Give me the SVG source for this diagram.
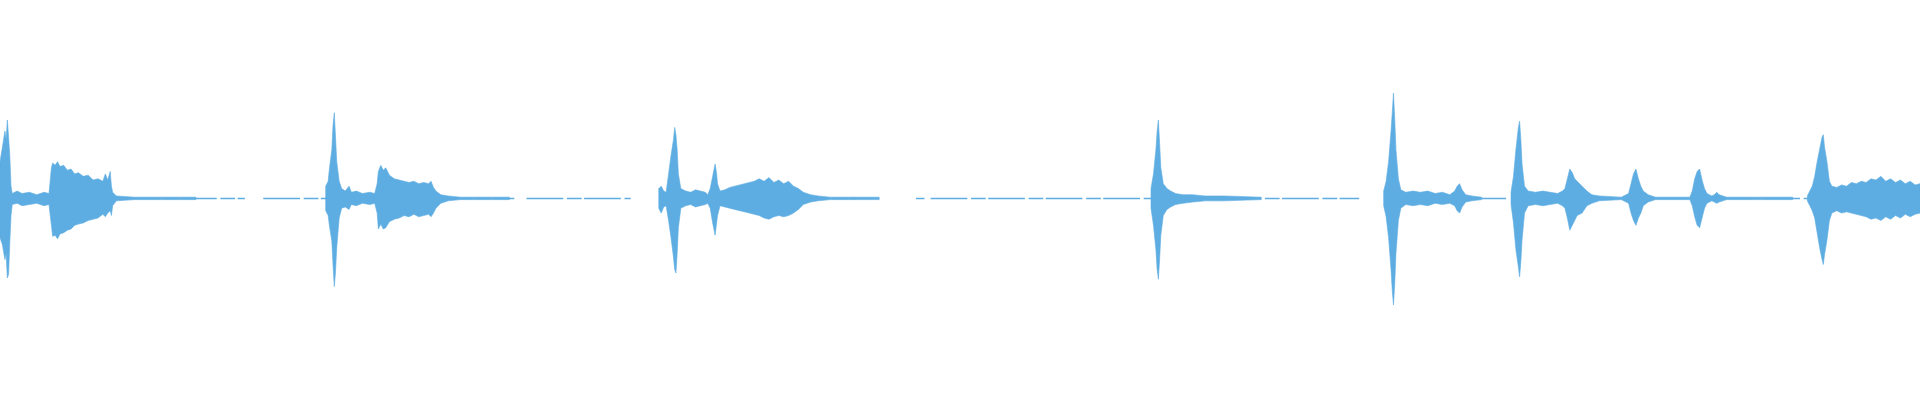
<svg xmlns="http://www.w3.org/2000/svg" width="1920" height="400" viewBox="0 0 1920 400">
<style>.w{fill:#5dade2;stroke:#5dade2;stroke-width:0.5;stroke-linejoin:miter}.b{stroke:#5dade2;stroke-width:1.2;fill:none}</style>
<rect width="1920" height="400" fill="#fff"/>
<g transform="translate(0,198.4) scale(1.2245)">
<g id="baseline"><path class="b" d="M100,0H200M215,0H420M430,0H515M600,0H700M748,0H755M760,0H940M1000,0H1110M1160,0H1230M1300,0H1330M1350,0H1380M1400,0H1430M1440,0H1478" stroke-dasharray="30 3 12 2"/></g>
<g id="e1"><path class="w" d="M0,-30L2,-42L4,-55L5,-48L6,-64L7,-50L8,-35L9,-10L10,-4L14,-6L18,-4L24,-5L30,-3L36,-5L40,-4L42,-25L43,-29L45,-27L47,-30L49,-26L52,-27L55,-23L58,-24L61,-20L64,-21L68,-18L72,-19L76,-15L80,-16L84,-14L86,-20L88,-15L90,-22L91,-10L92,-5L95,-2L110,-1L160,-1L160,1L110,1L95,2L92,6L91,14L90,10L88,12L86,15L84,13L80,16L76,17L72,18L68,20L64,21L61,22L58,25L55,26L52,28L49,29L47,33L45,30L43,31L42,22L40,5L36,6L30,4L24,5L18,6L14,4L10,5L9,14L8,36L7,62L6,65L5,45L4,50L2,38L0,32Z"/></g>
<g id="e2" transform="translate(266,0)"><path class="w" d="M0,-10L2,-14L3,-24L5,-40L6,-60L7,-70L8,-50L9,-30L11,-14L13,-8L16,-6L19,-10L21,-5L25,-6L30,-4L36,-5L40,-4L42,-12L43,-22L45,-27L47,-23L49,-25L52,-19L56,-16L60,-15L64,-14L68,-13L72,-14L76,-12L80,-13L84,-12L86,-14L88,-9L90,-6L94,-3L100,-2L110,-1L150,-1L150,1L110,1L100,2L94,4L90,8L88,12L86,15L84,13L80,14L76,15L72,13L68,15L64,14L60,16L56,17L52,19L49,24L47,25L45,21L43,25L42,12L40,4L36,5L30,4L25,6L21,5L19,9L16,7L13,8L11,16L9,40L8,60L7,72L6,55L5,35L3,22L2,14L0,10Z"/></g>
<g id="e3" transform="translate(538,0)"><path class="w" d="M0,-8L2,-10L4,-6L6,-5L8,-20L10,-35L12,-48L13,-58L14,-52L15,-40L16,-20L18,-8L22,-6L26,-5L30,-7L34,-6L38,-5L40,-3L42,-8L44,-18L46,-28L47,-22L48,-12L50,-6L54,-7L58,-9L62,-10L66,-11L70,-12L74,-13L78,-14L82,-16L86,-14L90,-17L94,-13L98,-15L102,-12L106,-14L110,-10L114,-8L118,-5L124,-3L130,-2L140,-1L180,-1L180,1L140,1L130,2L124,3L118,5L114,9L110,12L106,14L102,15L98,14L94,15L90,17L86,16L82,14L78,13L74,12L70,11L66,10L62,9L58,8L54,7L50,6L48,14L47,22L46,30L44,20L42,8L40,4L38,5L34,6L30,7L26,5L22,6L18,8L16,24L15,45L14,61L13,58L12,48L10,32L8,18L6,6L4,7L2,12L0,8Z"/></g>
<g id="e4" transform="translate(940,0)"><path class="w" d="M0,-8L2,-20L4,-40L5,-55L6,-64L7,-45L8,-25L10,-12L13,-8L16,-6L20,-4L26,-3L34,-3L44,-2L60,-2L90,-1L90,1L60,2L44,2L34,3L26,4L20,5L16,7L13,9L10,14L8,30L7,50L6,66L5,58L4,42L2,22L0,8Z"/></g>
<g id="e5" transform="translate(1130,0)"><path class="w" d="M0,-6L2,-14L4,-30L6,-55L7,-70L8,-86L9,-65L10,-40L12,-16L14,-7L18,-5L24,-6L30,-5L36,-6L42,-4L48,-5L54,-3L58,-6L60,-10L62,-12L64,-7L67,-3L72,-2L80,-1L80,1L72,2L67,3L64,7L62,12L60,10L58,6L54,4L48,5L42,4L36,6L30,5L24,6L18,5L14,8L12,18L10,45L9,70L8,87L7,75L6,58L4,32L2,15L0,6Z"/></g>
<g id="e6" transform="translate(1234,0)"><path class="w" d="M0,-5L2,-18L4,-40L6,-58L7,-63L8,-48L9,-28L11,-10L14,-6L20,-5L26,-6L32,-5L38,-4L42,-6L44,-8L46,-16L48,-24L50,-21L52,-16L54,-14L58,-10L62,-6L66,-3L72,-2L90,-1L96,-4L98,-12L100,-20L102,-24L104,-16L106,-10L108,-6L112,-3L118,-1L146,-1L148,-6L150,-16L152,-22L154,-24L156,-15L158,-8L160,-4L164,-2L166,-3L168,-5L170,-3L176,-1L230,-1L230,1L176,1L170,3L168,4L166,3L164,2L160,4L158,8L156,16L154,24L152,22L150,15L148,6L146,1L118,1L112,3L108,6L106,12L104,16L102,22L100,18L98,12L96,4L90,1L72,2L66,4L62,6L58,12L54,14L52,18L50,22L48,26L46,16L44,8L42,6L38,4L32,5L26,6L20,5L14,6L11,12L9,34L8,52L7,64L6,56L4,42L2,20L0,5Z"/></g>
<g id="e7" transform="translate(1476,0)"><path class="w" d="M0,-2L2,-6L4,-10L6,-18L8,-30L10,-40L12,-50L13,-52L14,-42L16,-30L18,-14L20,-10L24,-9L28,-11L32,-10L36,-13L40,-12L44,-14L48,-13L52,-16L56,-15L60,-18L64,-14L68,-16L72,-13L76,-15L80,-12L84,-14L88,-11L92,-12L92,12L88,13L84,15L80,13L76,16L72,14L68,17L64,15L60,18L56,16L52,17L48,15L44,14L40,13L36,12L32,11L28,12L24,10L20,12L18,18L16,34L14,46L13,54L12,50L10,40L8,28L6,16L4,10L2,6L0,2Z"/></g>
</g>
</svg>
